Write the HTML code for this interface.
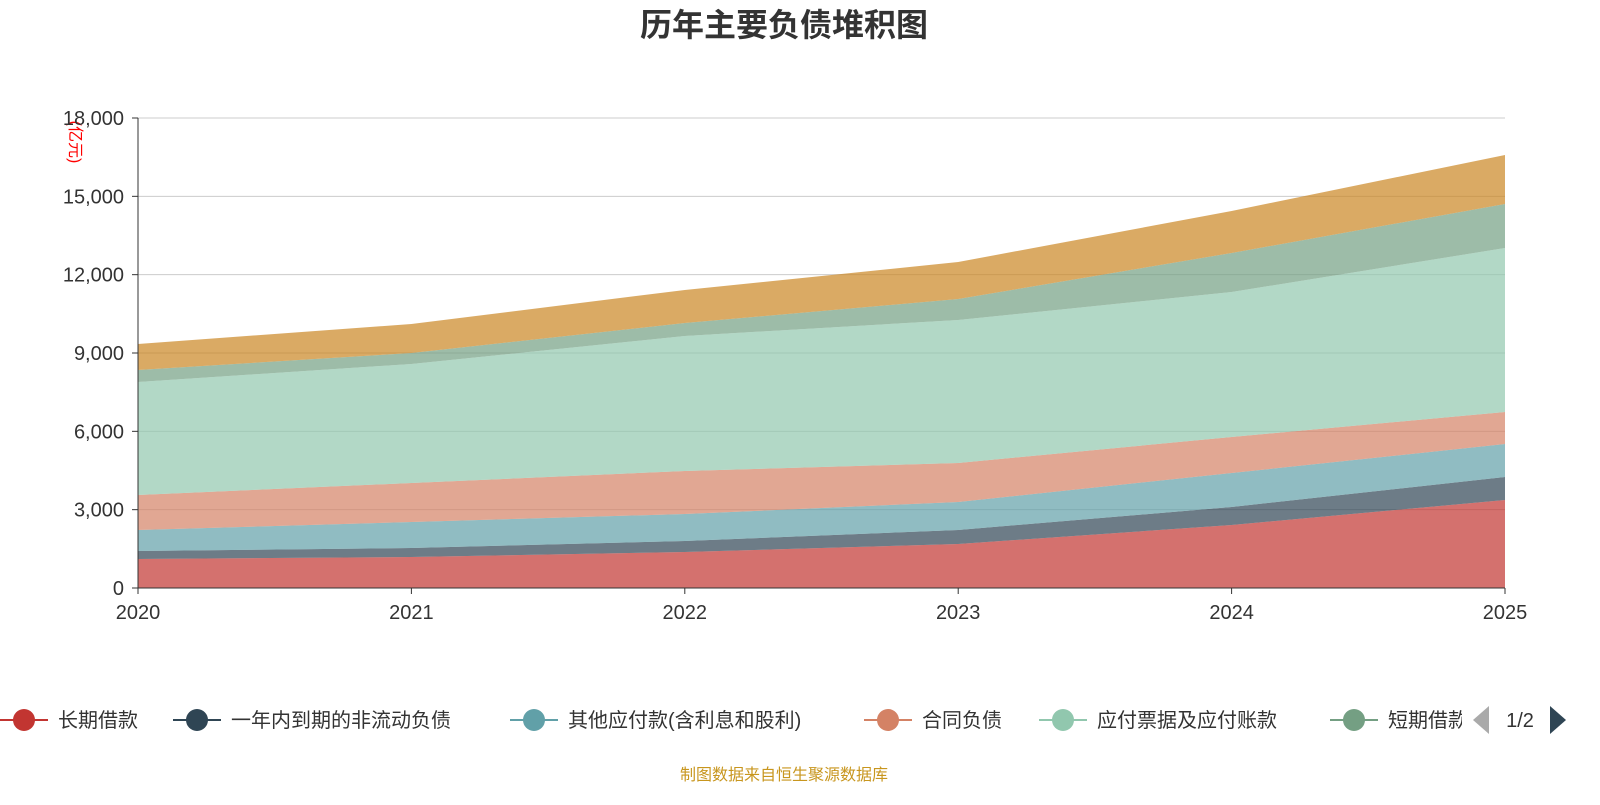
<!DOCTYPE html>
<html><head><meta charset="utf-8"><style>
body{margin:0;background:#fff;width:1600px;height:800px;overflow:hidden;font-family:"Liberation Sans","Noto Sans CJK SC",sans-serif}
</style></head><body>
<svg id="c" width="1600" height="800" xmlns="http://www.w3.org/2000/svg" font-family="Liberation Sans, Noto Sans CJK SC, sans-serif">
<text x="784" y="36" text-anchor="middle" font-size="32" font-weight="bold" fill="#333">历年主要负债堆积图</text>
<text transform="translate(70,142) rotate(90)" text-anchor="middle" font-size="16" fill="#ff0000">(亿元)</text>
<g id="grid"></g><g id="areas"></g><g id="axes"></g><g id="legend"></g>
<text x="784" y="780" text-anchor="middle" font-size="16" fill="#c8961e">制图数据来自恒生聚源数据库</text>
</svg>
<script>
const years = ['2020','2021','2022','2023','2024','2025'];
const seriesNames = ['长期借款','一年内到期的非流动负债','其他应付款(含利息和股利)','合同负债','应付票据及应付账款','短期借款','其他'];
const longLoan = [1111,1187,1379,1685,2413,3370];
const currentNonCurrent = [306,345,421,536,689,881];
const otherPayables = [804,996,1034,1073,1302,1264];
const contractLiab = [1341,1493,1647,1493,1379,1225];
const notesPayable = [4327,4558,5170,5477,5553,6281];
const shortLoan = [460,421,498,804,1494,1685];
const otherLiab = [996,1111,1264,1417,1608,1877];
const yTicks = [0,3000,6000,9000,12000,15000,18000];
const colors = ['#c23531','#2f4554','#61a0a8','#d48265','#91c7ae','#749f83','#ca8622'];
const series=[longLoan,currentNonCurrent,otherPayables,contractLiab,notesPayable,shortLoan,otherLiab];
const NS='http://www.w3.org/2000/svg';
const x0=138,x1=1505,yb=588,yt=118,ymax=18000;
const xs=i=>x0+(x1-x0)*i/(years.length-1);
const ys=v=>yb-(yb-yt)*v/ymax;
function mk(tag,attrs,parent){const e=document.createElementNS(NS,tag);for(const k in attrs)e.setAttribute(k,attrs[k]);parent.appendChild(e);return e;}
const grid=document.getElementById('grid'),axes=document.getElementById('axes'),areas=document.getElementById('areas'),legend=document.getElementById('legend');
yTicks.forEach(t=>{
  if(t>0){const l=mk('line',{x1:x0,x2:x1,y1:ys(t),y2:ys(t),stroke:'#ccc','stroke-width':1},grid);
  
  }
  const tx=mk('text',{x:x0-14,y:ys(t)+7,'text-anchor':'end','font-size':20,fill:'#333'},axes);
  tx.textContent=t.toLocaleString('en-US');
  
  
  mk('line',{x1:x0-6,x2:x0,y1:ys(t),y2:ys(t),stroke:'#333'},axes);
});
let base=years.map(()=>0);
series.forEach((s,k)=>{
  const top=base.map((b,i)=>b+s[i]);
  let d='M'+years.map((_,i)=>xs(i)+','+ys(top[i])).join('L');
  for(let i=years.length-1;i>=0;i--)d+='L'+xs(i)+','+ys(base[i]);
  const p=mk('path',{d:d+'Z',fill:colors[k],'fill-opacity':0.7},areas);
  
  
  base=top;
});
mk('line',{x1:x0,x2:x0,y1:yt,y2:yb,stroke:'#333'},axes);
mk('line',{x1:x0,x2:x1,y1:yb,y2:yb,stroke:'#333'},axes);
years.forEach((y,i)=>{
  mk('line',{x1:xs(i),x2:xs(i),y1:yb,y2:yb+6,stroke:'#333'},axes);
  const t=mk('text',{x:xs(i),y:yb+31,'text-anchor':'middle','font-size':20,fill:'#333'},axes);
  t.textContent=y;
  
  
});
const lx=[2,175,512,866,1041,1332];
const clip=mk('clipPath',{id:'lc'},legend);mk('rect',{x:0,y:690,width:1462,height:60},clip);
const lg=mk('g',{'clip-path':'url(#lc)'},legend);
for(let k=0;k<6;k++){
  const g=mk('g',{},lg);
  
  
  mk('line',{x1:lx[k]-2,x2:lx[k]+46,y1:720,y2:720,stroke:colors[k],'stroke-width':2},g);
  mk('circle',{cx:lx[k]+22,cy:720,r:11,fill:colors[k]},g);
  const t=mk('text',{x:lx[k]+56,y:727,'font-size':20,fill:'#333'},g);t.textContent=seriesNames[k];
}
const pl=mk('path',{d:'M1473,720L1489,706L1489,734Z',fill:'#aaa'},legend);


const pt=mk('text',{x:1520,y:727,'text-anchor':'middle','font-size':20,fill:'#333'},legend);pt.textContent='1/2';


const pn=mk('path',{d:'M1566,720L1550,706L1550,734Z',fill:'#2f4554'},legend);


</script>
</body></html>
